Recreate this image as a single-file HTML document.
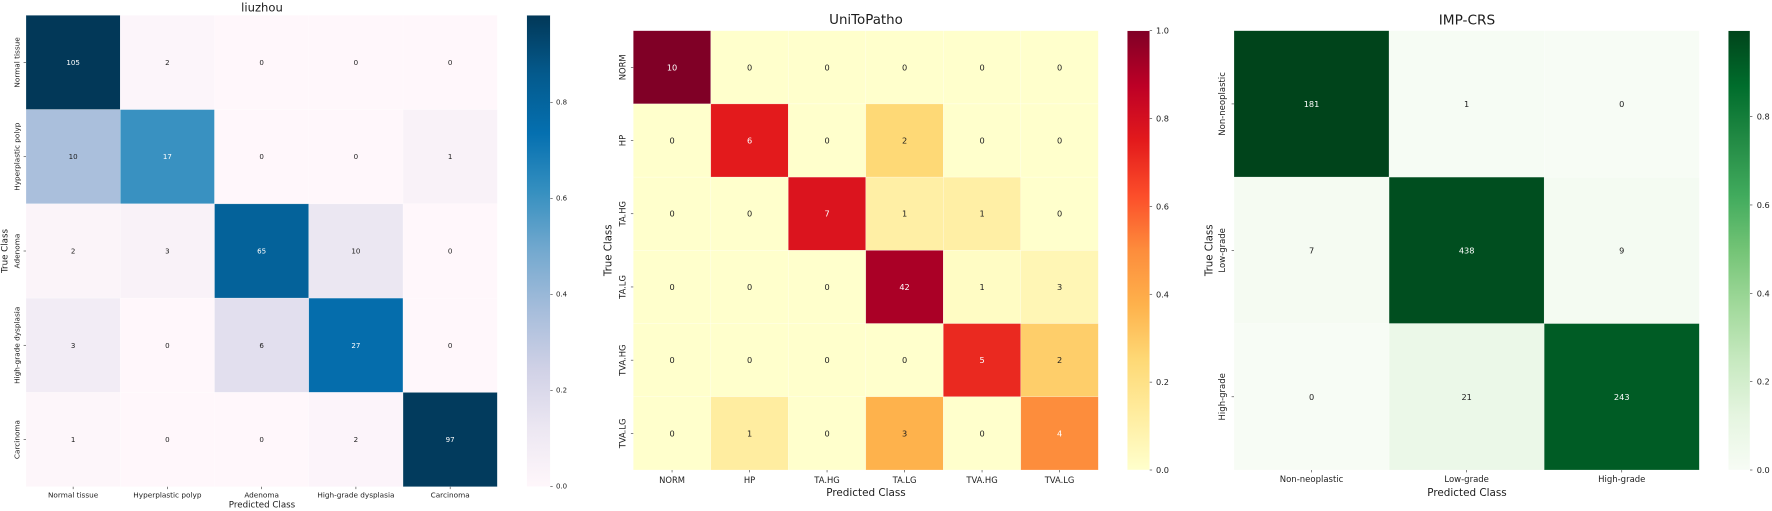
<!DOCTYPE html>
<html lang="en">
<head>
<meta charset="utf-8">
<title>Confusion matrices</title>
<style>
  html, body { margin: 0; padding: 0; background: #fff; }
  body { width: 1772px; height: 511px; overflow: hidden; }
  svg { display: block; filter: blur(0.3px); }
  text { font-family: "DejaVu Sans", "Liberation Sans", sans-serif; fill: #1c1c1c; }
</style>
</head>
<body>
<svg id="figure" xmlns="http://www.w3.org/2000/svg" width="1772" height="511" viewBox="0 0 1772 511">
  <defs id="gradients"></defs>
  <rect x="0" y="0" width="1772" height="511" fill="#ffffff"></rect>
  <g id="panel-liuzhou">
    <text x="262" y="7.5" font-size="11.6" text-anchor="middle" dominant-baseline="central">liuzhou</text>
    <text x="262" y="505.5" font-size="8.7" text-anchor="middle" dominant-baseline="central">Predicted Class</text>
    <text x="5.5" y="251" font-size="8.7" text-anchor="middle" dominant-baseline="central" transform="rotate(-90 5.5 251)">True Class</text>
  </g>
  <g id="panel-unitopatho">
    <text x="866" y="20.5" font-size="13.4" text-anchor="middle" dominant-baseline="central">UniToPatho</text>
    <text x="866" y="493" font-size="10.4" text-anchor="middle" dominant-baseline="central">Predicted Class</text>
    <text x="609" y="250.3" font-size="10.2" text-anchor="middle" dominant-baseline="central" transform="rotate(-90 609 250.3)">True Class</text>
  </g>
  <g id="panel-impcrs">
    <text x="1467" y="20.5" font-size="13.7" text-anchor="middle" dominant-baseline="central">IMP-CRS</text>
    <text x="1467" y="493" font-size="10.4" text-anchor="middle" dominant-baseline="central">Predicted Class</text>
    <text x="1210" y="250.3" font-size="10.2" text-anchor="middle" dominant-baseline="central" transform="rotate(-90 1210 250.3)">True Class</text>
  </g>
</svg>
<script>
// ---- chart data ----
const liuzhouCategories = ["Normal tissue", "Hyperplastic polyp", "Adenoma", "High-grade dysplasia", "Carcinoma"];
const liuzhouCounts = [
  [105, 2, 0, 0, 0],
  [10, 17, 0, 0, 1],
  [2, 3, 65, 10, 0],
  [3, 0, 6, 27, 0],
  [1, 0, 0, 2, 97]
];
const unitoCategories = ["NORM", "HP", "TA.HG", "TA.LG", "TVA.HG", "TVA.LG"];
const unitoCounts = [
  [10, 0, 0, 0, 0, 0],
  [0, 6, 0, 2, 0, 0],
  [0, 0, 7, 1, 1, 0],
  [0, 0, 0, 42, 1, 3],
  [0, 0, 0, 0, 5, 2],
  [0, 1, 0, 3, 0, 4]
];
const impCategories = ["Non-neoplastic", "Low-grade", "High-grade"];
const impCounts = [
  [181, 1, 0],
  [7, 438, 9],
  [0, 21, 243]
];
const colorbarTicks = [0, 0.2, 0.4, 0.6, 0.8, 1.0];
const colorbarTickLabels = ["0.0", "0.2", "0.4", "0.6", "0.8", "1.0"];

// ---- colormaps ----
const cmapPuBu = ["#fff7fb", "#ece7f2", "#d0d1e6", "#a6bddb", "#74a9cf", "#3690c0", "#0570b0", "#045a8d", "#023858"];
const cmapYlOrRd = ["#ffffcc", "#ffeda0", "#fed976", "#feb24c", "#fd8d3c", "#fc4e2a", "#e31a1c", "#bd0026", "#800026"];
const cmapGreens = ["#f7fcf5", "#e5f5e0", "#c7e9c0", "#a1d99b", "#74c476", "#41ab5d", "#238b45", "#006d2c", "#00441b"];

const SVG_NS = "http://www.w3.org/2000/svg";

function hexToRgb(hex) {
  return [1, 3, 5].map(function (i) { return parseInt(hex.slice(i, i + 2), 16); });
}
function sampleCmap(cmap, t) {
  const clamped = Math.max(0, Math.min(1, t));
  const pos = clamped * (cmap.length - 1);
  const lo = Math.floor(pos);
  const hi = Math.min(cmap.length - 1, lo + 1);
  const a = hexToRgb(cmap[lo]);
  const b = hexToRgb(cmap[hi]);
  const f = pos - lo;
  return a.map(function (c, i) { return Math.round(c + (b[i] - c) * f); });
}
function luminance(rgb) {
  const lin = rgb.map(function (c) {
    const v = c / 255;
    return v <= 0.03928 ? v / 12.92 : Math.pow((v + 0.055) / 1.055, 2.4);
  });
  return 0.2126 * lin[0] + 0.7152 * lin[1] + 0.0722 * lin[2];
}
function mk(tag, attrs, parent) {
  const el = document.createElementNS(SVG_NS, tag);
  Object.keys(attrs).forEach(function (k) { el.setAttribute(k, attrs[k]); });
  parent.appendChild(el);
  return el;
}
function slug(s) {
  return s.toLowerCase().replace(/[^a-z0-9]+/g, "-");
}

function drawPanel(cfg) {
  const group = document.getElementById(cfg.groupId);
  const n = cfg.categories.length;
  const rates = cfg.counts.map(function (row) {
    const total = row.reduce(function (a, b) { return a + b; }, 0);
    return row.map(function (v) { return v / total; });
  });
  const vmax = Math.max.apply(null, rates.map(function (r) { return Math.max.apply(null, r); }));
  const cellW = (cfg.x1 - cfg.x0) / n;
  const cellH = (cfg.y1 - cfg.y0) / n;
  const xScale = function (i) { return cfg.x0 + i * cellW; };
  const yScale = function (j) { return cfg.y0 + j * cellH; };
  const barScale = function (v) { return cfg.y1 - (v / vmax) * (cfg.y1 - cfg.y0); };

  // heatmap cells and annotations
  rates.forEach(function (row, j) {
    row.forEach(function (rate, i) {
      const rgb = sampleCmap(cfg.cmap, rate / vmax);
      const cell = mk("rect", {
        x: xScale(i), y: yScale(j), width: cellW, height: cellH,
        fill: "rgb(" + rgb.join(",") + ")",
        stroke: "#ffffff", "stroke-width": 0.5, "stroke-opacity": 0.45
      }, group);
      
      
    });
  });
  rates.forEach(function (row, j) {
    row.forEach(function (rate, i) {
      const rgb = sampleCmap(cfg.cmap, rate / vmax);
      const label = mk("text", {
        x: xScale(i + 0.5), y: yScale(j + 0.5),
        "font-size": cfg.annotSize, "text-anchor": "middle", "dominant-baseline": "central"
      }, group);
      label.style.fill = luminance(rgb) > 0.408 ? "#1c1c1c" : "#ffffff";
      label.textContent = cfg.counts[j][i];
      
      
    });
  });

  // axis ticks and tick labels
  cfg.categories.forEach(function (name, i) {
    const xTick = mk("line", {
      x1: xScale(i + 0.5), x2: xScale(i + 0.5), y1: cfg.y1, y2: cfg.y1 + 2.4,
      stroke: "#333333", "stroke-width": 0.6
    }, group);
    
    

    const xLabel = mk("text", {
      x: xScale(i + 0.5), y: cfg.xLabelY,
      "font-size": cfg.tickSize, "text-anchor": "middle", "dominant-baseline": "central"
    }, group);
    xLabel.textContent = name;
    
    

    const yTick = mk("line", {
      x1: cfg.x0 - 2.4, x2: cfg.x0, y1: yScale(i + 0.5), y2: yScale(i + 0.5),
      stroke: "#333333", "stroke-width": 0.6
    }, group);
    
    

    const yLabel = mk("text", {
      x: cfg.yLabelX, y: yScale(i + 0.5),
      "font-size": cfg.tickSize, "text-anchor": "middle", "dominant-baseline": "central",
      transform: "rotate(-90 " + cfg.yLabelX + " " + yScale(i + 0.5) + ")"
    }, group);
    yLabel.textContent = name;
    
    
  });

  // colorbar
  const defs = document.getElementById("gradients");
  const gradId = cfg.prefix + "-gradient";
  const grad = mk("linearGradient", { id: gradId, x1: 0, y1: 1, x2: 0, y2: 0 }, defs);
  cfg.cmap.forEach(function (color, k) {
    mk("stop", { offset: k / (cfg.cmap.length - 1), "stop-color": color }, grad);
  });
  const bar = mk("rect", {
    x: cfg.barX0, y: cfg.y0, width: cfg.barX1 - cfg.barX0, height: cfg.y1 - cfg.y0,
    fill: "url(#" + gradId + ")", stroke: "#ffffff", "stroke-width": 0.4
  }, group);
  
  

  colorbarTicks.forEach(function (v, k) {
    if (v > vmax) { return; }
    const y = barScale(v);
    const tick = mk("line", {
      x1: cfg.barX1, x2: cfg.barX1 + 2.4, y1: y, y2: y,
      stroke: "#333333", "stroke-width": 0.6
    }, group);
    
    

    const label = mk("text", {
      x: cfg.barX1 + cfg.barLabelGap, y: y,
      "font-size": cfg.barTickSize, "dominant-baseline": "central"
    }, group);
    label.textContent = colorbarTickLabels[k];
    
    
  });
}

drawPanel({
  groupId: "panel-liuzhou", prefix: "liuzhou",
  categories: liuzhouCategories, counts: liuzhouCounts, cmap: cmapPuBu,
  x0: 26, x1: 497.3, y0: 15.3, y1: 486.7,
  barX0: 526.7, barX1: 550.3, barLabelGap: 5.7,
  annotSize: 7.1, tickSize: 7.3, barTickSize: 7,
  xLabelY: 495, yLabelX: 17
});
drawPanel({
  groupId: "panel-unitopatho", prefix: "unitopatho",
  categories: unitoCategories, counts: unitoCounts, cmap: cmapYlOrRd,
  x0: 633.3, x1: 1098.3, y0: 30.7, y1: 470,
  barX0: 1127.3, barX1: 1149.7, barLabelGap: 6.3,
  annotSize: 8.2, tickSize: 8.4, barTickSize: 8.2,
  xLabelY: 480, yLabelX: 622.3
});
drawPanel({
  groupId: "panel-impcrs", prefix: "imp-crs",
  categories: impCategories, counts: impCounts, cmap: cmapGreens,
  x0: 1234, x1: 1699.3, y0: 30.7, y1: 470,
  barX0: 1728.3, barX1: 1750, barLabelGap: 6.7,
  annotSize: 8.2, tickSize: 8.5, barTickSize: 8.2,
  xLabelY: 480, yLabelX: 1223
});
</script>
</body>
</html>
